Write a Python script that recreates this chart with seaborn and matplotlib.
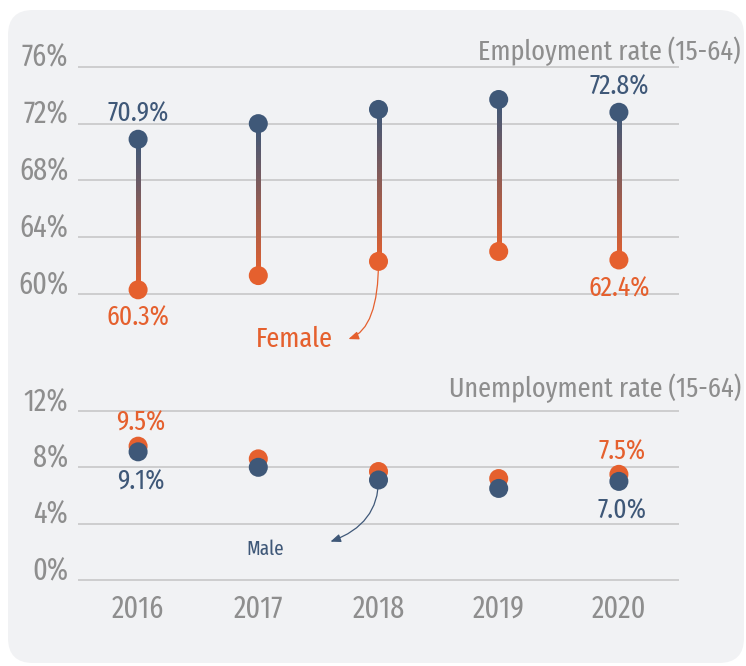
import matplotlib
matplotlib.use('Agg')
import numpy as np
import pandas as pd
import matplotlib.pyplot as plt
import seaborn as sns
from matplotlib.collections import LineCollection
from matplotlib.patches import FancyBboxPatch
from matplotlib.colors import to_rgb

# data
years = ['2016', '2017', '2018', '2019', '2020']
emp_male = [70.9, 72.0, 73.0, 73.7, 72.8]
emp_female = [60.3, 61.3, 62.3, 63.0, 62.4]
unemp_male = [9.1, 8.0, 7.1, 6.5, 7.0]
unemp_female = [9.5, 8.6, 7.7, 7.2, 7.5]
emp_ticks = [60, 64, 68, 72, 76]
unemp_ticks = [0, 4, 8, 12]

NAVY = '#3f5878'
ORANGE = '#e5602e'
GREY = '#8e8e8e'
GRID = '#c4c4c4'

sns.set_theme(style='white')
plt.rcParams['font.family'] = ['Fira Sans Extra Condensed', 'DejaVu Sans']

fig = plt.figure(figsize=(7.46, 6.66), dpi=100)
fig.patch.set_facecolor('white')
panel = FancyBboxPatch((0.08, 0.03), 7.36, 6.53, boxstyle='round,pad=0,rounding_size=0.25',
                       transform=fig.dpi_scale_trans, facecolor='#f1f2f4', edgecolor='none', zorder=0)
fig.add_artist(panel)

ax1 = fig.add_axes([78/746, 1-350/666, 601/746, 310/666])
ax2 = fig.add_axes([78/746, 1-587/666, 601/746, 207/666])


def style(ax, ticks, ylim):
    ax.set_facecolor('none')
    ax.set_xlim(-0.5, 4.5)
    ax.set_ylim(ylim)
    ax.set_yticks(ticks)
    ax.set_yticklabels([f'{t}%' for t in ticks], va='baseline')
    ax.tick_params(axis='y', length=0, pad=7, labelsize=22, labelcolor=GREY)
    ax.yaxis.grid(True, color=GRID, lw=1.1)
    ax.xaxis.grid(False)
    sns.despine(ax=ax, left=True, bottom=True)
    ax.set_xlabel('')
    ax.set_ylabel('')


# employment: gradient stems + dots
c_top = np.array(to_rgb(NAVY))
c_bot = np.array(to_rgb(ORANGE))
for i, (m, f) in enumerate(zip(emp_male, emp_female)):
    ys = np.linspace(f, m, 60)
    segs = [[(i, ys[k]), (i, ys[k + 1])] for k in range(len(ys) - 1)]
    t = np.linspace(0, 1, len(segs))[:, None]
    cols = c_bot * (1 - t) + c_top * t
    ax1.add_collection(LineCollection(segs, colors=cols, linewidths=3.6,
                                      capstyle='projecting', zorder=1.5))

emp = pd.DataFrame({'year': years * 2, 'rate': emp_female + emp_male,
                    'sex': ['Female'] * 5 + ['Male'] * 5})
unemp = pd.DataFrame({'year': years * 2, 'rate': unemp_female + unemp_male,
                      'sex': ['Female'] * 5 + ['Male'] * 5})
pal = {'Female': ORANGE, 'Male': NAVY}

sns.stripplot(data=emp, x='year', y='rate', hue='sex', hue_order=['Female', 'Male'],
              palette=pal, jitter=False, size=13.7, linewidth=0, legend=False, ax=ax1, zorder=3)
sns.stripplot(data=unemp, x='year', y='rate', hue='sex', hue_order=['Female', 'Male'],
              palette=pal, jitter=False, size=13.7, linewidth=0, legend=False, ax=ax2, zorder=3)

style(ax1, emp_ticks, (56.06, 77.89))
style(ax2, unemp_ticks, (-0.5, 14.2))
ax1.tick_params(axis='x', labelbottom=False, length=0)
ax2.set_xticks(range(len(years)))
ax2.set_xticklabels(years)
ax2.tick_params(axis='x', length=0, pad=5, labelsize=22, labelcolor=GREY)

# value labels on first and last year
for i in [0, 4]:
    ax1.annotate(f'{emp_male[i]:.1f}%', (i, emp_male[i]), xytext=(0, 13), textcoords='offset points',
                 ha='center', va='baseline', fontsize=20, color=NAVY)
    ax1.annotate(f'{emp_female[i]:.1f}%', (i, emp_female[i]), xytext=(0, -26), textcoords='offset points',
                 ha='center', va='baseline', fontsize=20, color=ORANGE)
    ax2.annotate(f'{unemp_female[i]:.1f}%', (i, unemp_female[i]), xytext=(2, 11), textcoords='offset points',
                 ha='center', va='baseline', fontsize=20, color=ORANGE)
    ax2.annotate(f'{unemp_male[i]:.1f}%', (i, unemp_male[i]), xytext=(2, -27), textcoords='offset points',
                 ha='center', va='baseline', fontsize=20, color=NAVY)

# titles
fig.text(741/746, 1 - 60/666, 'Employment rate (15-64)', ha='right', va='baseline',
         fontsize=20.5, color=GREY)
fig.text(741/746, 1 - 397/666, 'Unemployment rate (15-64)', ha='right', va='baseline',
         fontsize=20.5, color=GREY)

# callouts
ax1.annotate('', xy=(1.75, 56.83), xytext=(2, emp_female[2]),
             arrowprops=dict(arrowstyle='-|>,head_length=0.5,head_width=0.2', color=ORANGE, lw=0.9,
                             connectionstyle='angle3,angleA=-90,angleB=20', shrinkA=0, shrinkB=0),
             annotation_clip=False, zorder=1)
ax1.text(1.296, 56.27, 'Female', ha='center', va='baseline', fontsize=20.5, color=ORANGE)
ax2.annotate('', xy=(1.6, 2.72), xytext=(2, unemp_male[2]),
             arrowprops=dict(arrowstyle='-|>,head_length=0.5,head_width=0.2', color=NAVY, lw=0.9,
                             connectionstyle='angle3,angleA=-90,angleB=20', shrinkA=0, shrinkB=0),
             annotation_clip=False, zorder=1)
ax2.text(1.06, 1.78, 'Male', ha='center', va='baseline', fontsize=15, color=NAVY)

fig.savefig('out.png', dpi=100)
